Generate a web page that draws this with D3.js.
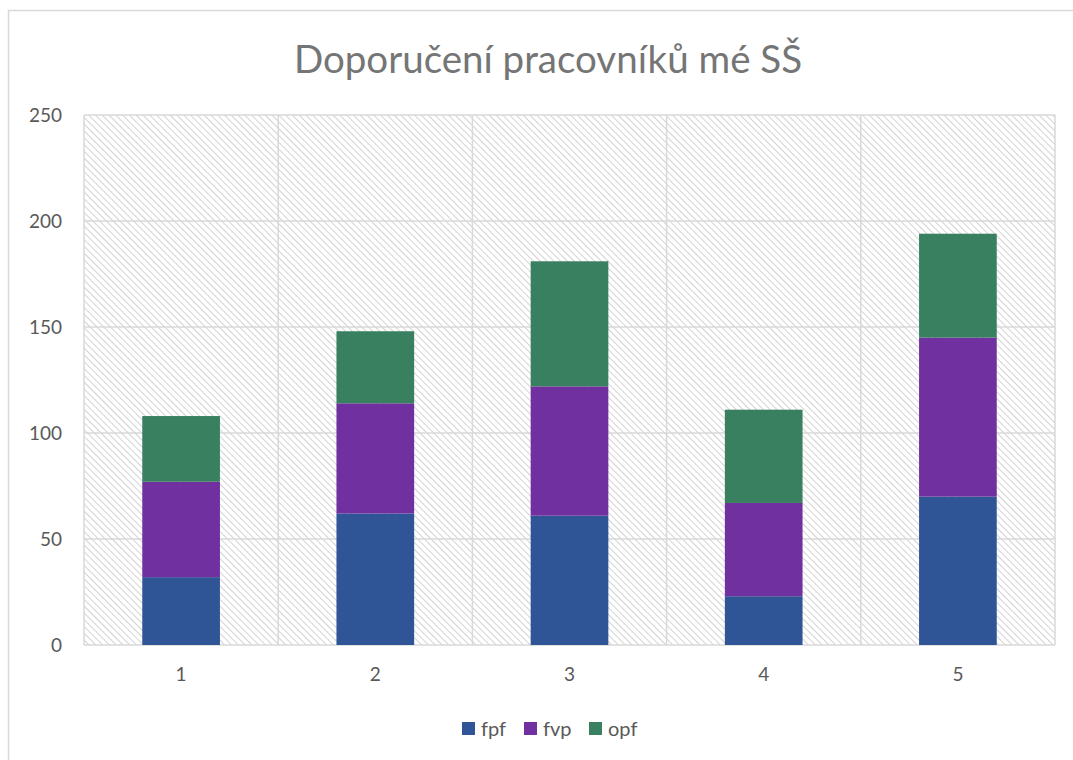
<!DOCTYPE html>
<html>
<head>
<meta charset="utf-8">
<script src="https://cdn.jsdelivr.net/npm/d3@7"></script>
<style>
  body { margin: 0; background: #fff; }
  text { font-family: Lato, "Open Sans", sans-serif; fill: #595959; }
</style>
</head>
<body>
<svg id="chart" width="1073" height="760"></svg>
<script>
var categories = ["1", "2", "3", "4", "5"]
var fpf = [32, 62, 61, 23, 70]
var fvp = [45, 52, 61, 44, 75]
var opf = [31, 34, 59, 44, 49]
var seriesNames = ["fpf", "fvp", "opf"]
var seriesColors = ["#2F5597", "#7030A0", "#38805F"]
var yTicks = [0, 50, 100, 150, 200, 250]

var svg = d3.select('#chart')
var margin = { left: 84, right: 1055, top: 115, bottom: 645 }

// outer chart border
svg.append('rect')
  .attr('x', 8.5).attr('y', 10.5)
  .attr('width', 1100).attr('height', 800)
  .attr('fill', '#fff').attr('stroke', '#d9d9d9').attr('stroke-width', 1.5)

// diagonal hatch for plot area
var defs = svg.append('defs')
var pat = defs.append('pattern')
  .attr('id', 'hatch')
  .attr('patternUnits', 'userSpaceOnUse')
  .attr('width', 4.8).attr('height', 4.8)
  .attr('patternTransform', 'rotate(-45)')
pat.append('rect').attr('width', 4.8).attr('height', 4.8).attr('fill', '#fff')
pat.append('line')
  .attr('x1', 0).attr('y1', 0).attr('x2', 0).attr('y2', 4.8)
  .attr('stroke', '#d2d2d2').attr('stroke-width', 2)

var x = d3.scaleBand()
  .domain(categories)
  .range([margin.left, margin.right])
  .paddingInner(0).paddingOuter(0)

var y = d3.scaleLinear()
  .domain([0, 250])
  .range([margin.bottom, margin.top])

svg.append('rect')
  .attr('x', margin.left).attr('y', margin.top)
  .attr('width', margin.right - margin.left)
  .attr('height', margin.bottom - margin.top)
  .attr('fill', 'url(#hatch)')

// gridlines
var grid = svg.append('g').attr('class', 'grid')
grid.selectAll('line.h')
  .data(yTicks)
  .enter().append('line')
  .attr('class', 'h')
  .attr('x1', margin.left).attr('x2', margin.right)
  .attr('y1', function (d) { return y(d) }).attr('y2', function (d) { return y(d) })
  .attr('stroke', '#d9d9d9').attr('stroke-width', 1.5)

var vBounds = categories.map(function (c) { return x(c) }).concat([margin.right])
grid.selectAll('line.v')
  .data(vBounds)
  .enter().append('line')
  .attr('class', 'v')
  .attr('x1', function (d) { return d }).attr('x2', function (d) { return d })
  .attr('y1', margin.top).attr('y2', margin.bottom)
  .attr('stroke', '#d9d9d9').attr('stroke-width', 1.5)

// stacked data
var rows = categories.map(function (c, i) {
  return { cat: c, fpf: fpf[i], fvp: fvp[i], opf: opf[i] }
})
var stack = d3.stack().keys(seriesNames)(rows)

var barW = x.bandwidth() * 0.4
svg.append('g').selectAll('g')
  .data(stack)
  .enter().append('g')
  .attr('fill', function (d, i) { return seriesColors[i] })
  .selectAll('rect')
  .data(function (d) { return d })
  .enter().append('rect')
  .attr('x', function (d) { return x(d.data.cat) + (x.bandwidth() - barW) / 2 })
  .attr('width', barW)
  .attr('y', function (d) { return y(d[1]) })
  .attr('height', function (d) { return y(d[0]) - y(d[1]) })

// axes
var yAxis = svg.append('g')
  .attr('transform', 'translate(' + (margin.left - 22) + ',0)')
  .call(d3.axisLeft(y).tickValues(yTicks).tickSize(0).tickPadding(0))
yAxis.select('.domain').remove()
yAxis.selectAll('text')
  .attr('font-size', 19).attr('fill', '#595959')
  .style('font-family', 'Lato, "Open Sans", sans-serif')

var xAxis = svg.append('g')
  .attr('transform', 'translate(0,' + (margin.bottom + 22) + ')')
  .call(d3.axisBottom(x).tickSize(0).tickPadding(0))
xAxis.select('.domain').remove()
xAxis.selectAll('text')
  .attr('font-size', 19).attr('fill', '#595959')
  .style('font-family', 'Lato, "Open Sans", sans-serif')

// title
svg.append('text')
  .attr('x', 548).attr('y', 73)
  .attr('text-anchor', 'middle')
  .attr('font-size', 38.5)
  .style('fill', '#757575')
  .text('Doporučení pracovníků mé SŠ')

// legend
var legendX = [462, 524, 589]
var legend = svg.append('g').selectAll('g')
  .data(seriesNames)
  .enter().append('g')
  .attr('transform', function (d, i) { return 'translate(' + legendX[i] + ',722)' })
legend.append('rect')
  .attr('width', 13).attr('height', 13)
  .attr('fill', function (d, i) { return seriesColors[i] })
legend.append('text')
  .attr('x', 19).attr('y', 13.5)
  .attr('font-size', 20)
  .text(function (d) { return d })
</script>
</body>
</html>
